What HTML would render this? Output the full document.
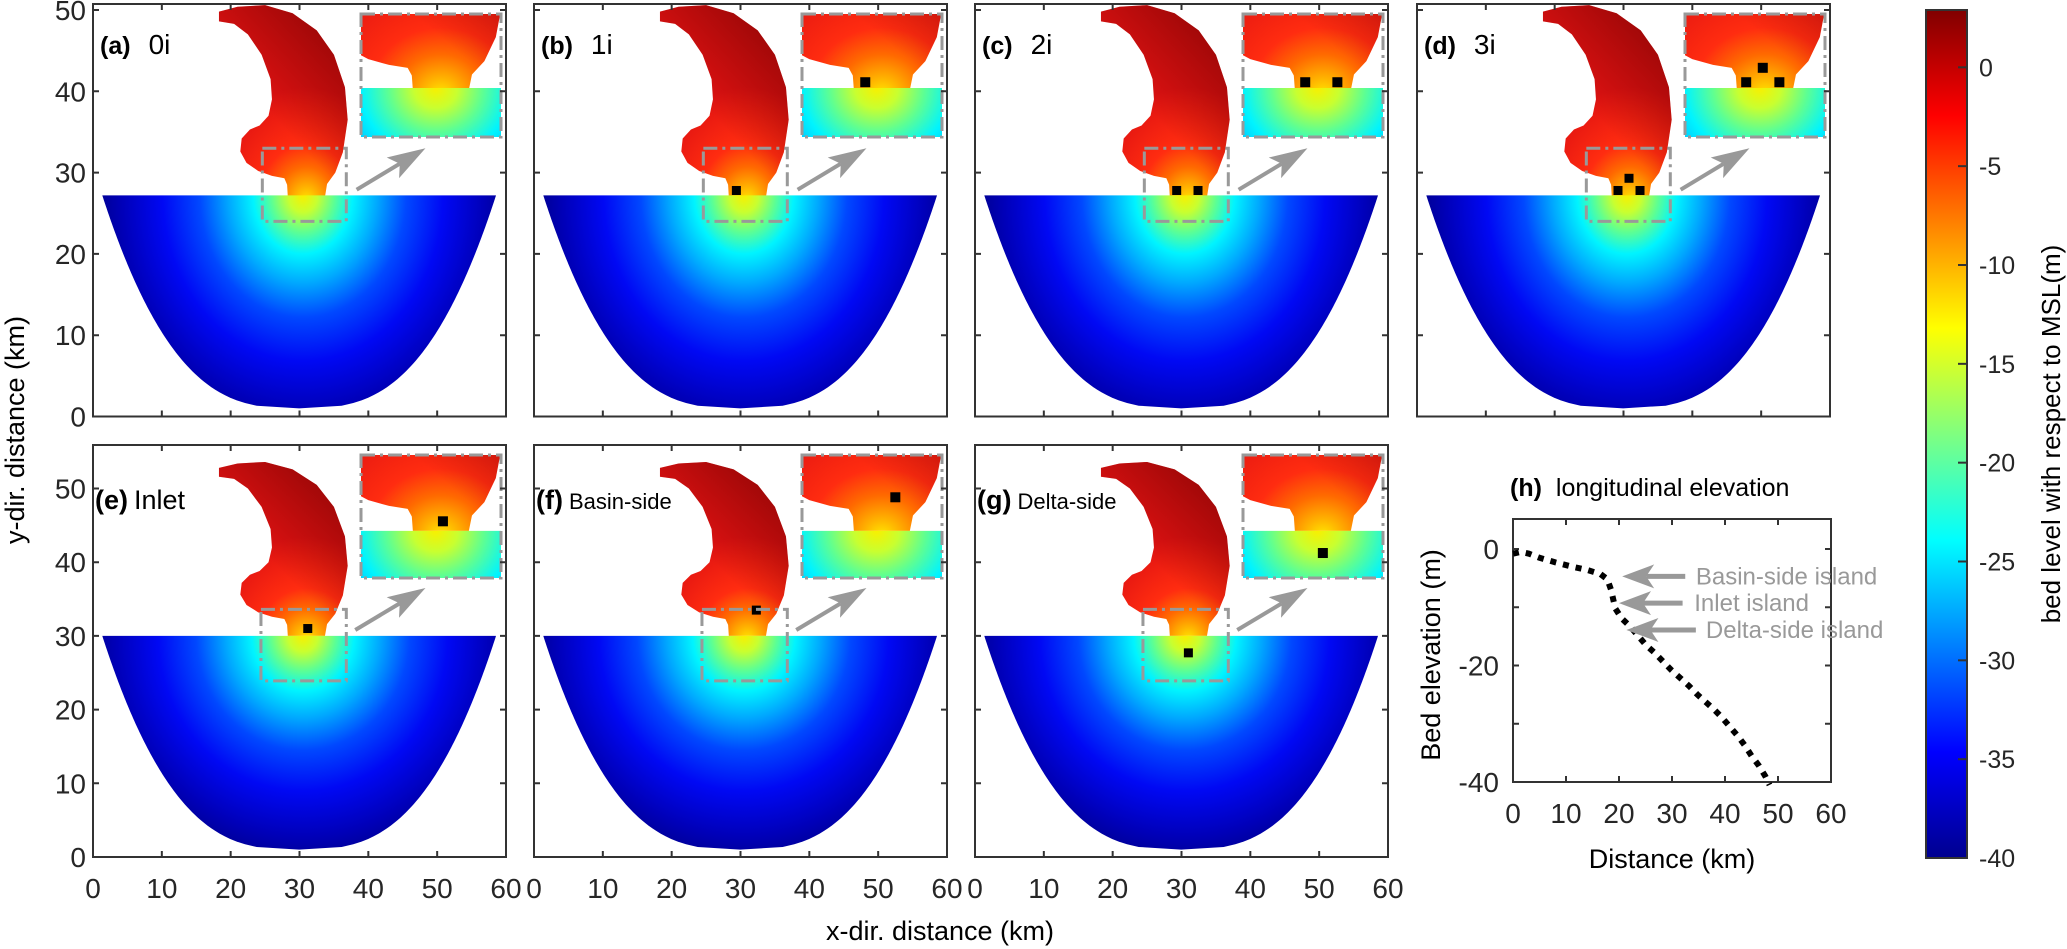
<!DOCTYPE html>
<html><head><meta charset="utf-8"><title>Bed level panels</title>
<style>
html,body{margin:0;padding:0;background:#fff;}
svg{display:block;font-family:"Liberation Sans",Arial,sans-serif;}
</style></head>
<body>
<svg id="fig" xmlns="http://www.w3.org/2000/svg" width="2067" height="949" viewBox="0 0 2067 949">
<defs id="defs"></defs>
</svg>
<script>
// ---------- data ----------
const panelLabels = ['(a)','(b)','(c)','(d)','(e)','(f)','(g)'];
const panelTitles = ['0i','1i','2i','3i','Inlet','Basin-side','Delta-side'];
const islandsX = [[],[29.4],[29.3,32.4],[29.2,30.8,32.4],[31.2],[32.3],[31.0]];
const islandsY = [[],[27.8],[27.8,27.8],[27.8,29.3,27.8],[31.0],[33.5],[27.7]];
const mapXTicks = [0,10,20,30,40,50,60];
const topYTicks = [0,10,20,30,40,50];
const botYTicks = [0,10,20,30,40,50];
const profDist = [0,1.5,3,5,8,11,14,16.5,17.8,18.5,19.3,20.5,22.1,25.1,26.7,28.4,29.9,31.5,33.2,34.8,36.4,38,39.5,41,42.5,43.8,45,46.4,47.6,48.4];
const profElev = [-0.8,-0.5,-0.8,-1.5,-2.3,-3,-3.6,-4.3,-5.2,-7,-10.2,-11.9,-13.3,-16.5,-17.8,-19.4,-20.8,-22.1,-23.5,-25,-26.3,-27.6,-29,-30.6,-32.2,-33.8,-35.5,-37.2,-39,-40.5];
const hXTicks = [0,10,20,30,40,50,60];
const hYTicks = [0,-20,-40];
const hYMinor = [-10,-30];
const annotText = ['Basin-side island','Inlet island','Delta-side island'];
const annotElev = [-4.7,-9.3,-13.9];
const annotTip = [20.6,20.0,21.4];
const annotTail = [32.5,32,34.5];
const annotTextX = [34.5,34.2,36.4];
const cbTicks = [0,-5,-10,-15,-20,-25,-30,-35,-40];

// ---------- helpers ----------
const NS='http://www.w3.org/2000/svg';
const svg=document.getElementById('fig');
const defs=document.getElementById('defs');
function mk(tag,parent){const e=document.createElementNS(NS,tag);(parent||svg).appendChild(e);return e;}
function set(e,a){for(const k in a)e.setAttribute(k,a[k]);return e;}
function pts(arr){return arr.map(p=>p[0]+','+p[1]).join(' ');}

const jet=[[0,'#00008f'],[0.125,'#0000ff'],[0.375,'#00ffff'],[0.625,'#ffff00'],[0.875,'#ff0000'],[1,'#800000']];
function grad(id,type,attrs,stops){const g=mk(type,defs);set(g,Object.assign({id:id},attrs));stops.forEach(s=>{const st=mk('stop',g);set(st,{offset:s[0],'stop-color':s[1]});if(s[2]!==undefined)st.setAttribute('stop-opacity',s[2]);});return g;}
const basinStops=[[0,'#f8f000'],[0.07,'#c8ff30'],[0.15,'#60ff90'],[0.24,'#00f4ff'],[0.36,'#00a8ff'],[0.5,'#0048ff'],[0.68,'#0008f4'],[0.88,'#0000b8'],[1,'#000090']];
grad('basinTop','radialGradient',{gradientUnits:'userSpaceOnUse',cx:30.5,cy:27.2,r:30},basinStops);
grad('basinBot','radialGradient',{gradientUnits:'userSpaceOnUse',cx:30.5,cy:30,r:31},basinStops);
const deltaStops=[[0,'#ffe800'],[0.12,'#ffb400'],[0.3,'#ff6a00'],[0.5,'#ff2c10'],[1,'#e01212']];
grad('deltaTop','radialGradient',{gradientUnits:'userSpaceOnUse',cx:31,cy:26.5,r:14},deltaStops);
grad('deltaBot','radialGradient',{gradientUnits:'userSpaceOnUse',cx:31,cy:29.5,r:14},deltaStops);
grad('shadeTop','linearGradient',{gradientUnits:'userSpaceOnUse',x1:27,y1:36,x2:36,y2:46},[[0,'#700000',0],[1,'#700000',0.6]]);
grad('shadeBot','linearGradient',{gradientUnits:'userSpaceOnUse',x1:27,y1:39,x2:36,y2:49},[[0,'#700000',0],[1,'#700000',0.6]]);
grad('cbGrad','linearGradient',{x1:0,y1:1,x2:0,y2:0},jet.map(s=>[s[0],s[1]]));

const deltaPts=[[28.3,27.0],[28.2,28.5],[27.8,29.3],[26,29.6],[24,30.2],[22.3,31.2],[21.4,32.6],[21.6,34.2],[22.8,35.3],[24.2,35.8],[25.5,37],[26,39],[25.8,41.5],[24.5,44.5],[22.5,47],[20.5,48.3],[18.3,48.6],[18.3,49.8],[21,50.4],[25,50.6],[29,49.6],[32.5,47.5],[35,44.5],[36.6,40.5],[37,36.5],[36.3,32.5],[35.2,30],[34,28.6],[33.7,27.0]];
function basinPts(top){
  const left=[], right=[];
  const N=80;
  for(let k=0;k<=N;k++){
    const r=1-k/N;
    const w=28.6*Math.pow(r,0.35);
    const y=1+r*(top-1);
    left.push([29.95-w,y]);
    right.unshift([29.95+w,y]);
  }
  return left.concat(right);
}
function drawMap(g,row){
  const shift=row===0?0:3;
  const d=mk('polygon',g);
  set(d,{points:pts(deltaPts.map(p=>[p[0],p[1]+shift])),fill:row===0?'url(#deltaTop)':'url(#deltaBot)'});
  
  
  const s=mk('polygon',g);
  set(s,{points:pts(deltaPts.map(p=>[p[0],p[1]+shift])),fill:row===0?'url(#shadeTop)':'url(#shadeBot)'});
  
  
  const b=mk('polygon',g);
  set(b,{points:pts(basinPts(row===0?27.2:30)),fill:row===0?'url(#basinTop)':'url(#basinBot)'});
  
  
}

const colX=[93,534,975,1417];
const FW=413;
const rows=[{top:4,bottom:416.5,ys:8.13,box:[24.6,36.8,24.0,33.0],arrow:[38.3,27.9,48.3,33.0]},
            {top:445,bottom:857,ys:7.37,box:[24.4,36.8,23.9,33.6],arrow:[38.1,30.8,48.3,36.5]}];
const XS=FW/60;

for(let i=0;i<7;i++){
  const row=i<4?0:1, R=rows[row];
  const fx=colX[i%4], ftop=R.top, fbot=R.bottom;
  const sx=v=>fx+v*XS, sy=v=>fbot-v*R.ys;
  const pg=mk('g');
  
  
  const mg=mk('g',pg);
  set(mg,{transform:`translate(${fx},${fbot}) scale(${XS},${-R.ys})`});
  
  
  drawMap(mg,row);
  islandsX[i].forEach((x,j)=>{
    const r=mk('rect',pg);
    set(r,{x:sx(x)-4.5,y:sy(islandsY[i][j])-4.5,width:9,height:9,fill:'#000'});
    
    
  });
  const bx=R.box;
  const zb=mk('rect',pg);
  set(zb,{x:sx(bx[0]),y:sy(bx[3]),width:sx(bx[1])-sx(bx[0]),height:sy(bx[2])-sy(bx[3]),fill:'none',stroke:'#999','stroke-width':3,'stroke-dasharray':'14,5,3,5'});
  
  
  const a=R.arrow, x1=sx(a[0]),y1=sy(a[1]),x2=sx(a[2]),y2=sy(a[3]);
  const ang=Math.atan2(y2-y1,x2-x1), hl=30, hw=12;
  const bxp=x2-hl*Math.cos(ang), byp=y2-hl*Math.sin(ang);
  const ln=mk('line',pg);
  set(ln,{x1:x1,y1:y1,x2:bxp,y2:byp,stroke:'#999','stroke-width':4});
  
  
  const hd=mk('polygon',pg);
  set(hd,{points:pts([[x2,y2],[bxp-8*Math.cos(ang)+hw*Math.sin(ang),byp-8*Math.sin(ang)-hw*Math.cos(ang)],[bxp,byp],[bxp-8*Math.cos(ang)-hw*Math.sin(ang),byp-8*Math.sin(ang)+hw*Math.cos(ang)]]),fill:'#999'});
  
  
  const shift=row===0?0:3;
  const ix=fx+268, iy=ftop+10, iw=140, ih=123;
  const vx=23.3, vy=34.9+shift, vw=13.5, vh=12.8;
  const ins=mk('svg',pg);
  set(ins,{x:ix,y:iy,width:iw,height:ih,viewBox:`${vx} ${-vy} ${vw} ${vh}`,preserveAspectRatio:'none'});
  
  
  const ig=mk('g',ins);
  set(ig,{transform:'scale(1,-1)'});
  drawMap(ig,row);
  islandsX[i].forEach((x,j)=>{
    const r=mk('rect',pg);
    set(r,{x:ix+(x-vx)/vw*iw-5,y:iy+(vy-islandsY[i][j])/vh*ih-5,width:10,height:10,fill:'#000'});
    
    
  });
  const ib=mk('rect',pg);
  set(ib,{x:ix,y:iy,width:iw,height:ih,fill:'none',stroke:'#999','stroke-width':3,'stroke-dasharray':'14,5,3,5'});
  
  
  const fr=mk('rect',pg);
  set(fr,{x:fx,y:ftop,width:FW,height:fbot-ftop,fill:'none',stroke:'#333','stroke-width':2});
  
  
  mapXTicks.forEach(t=>{
    const X=sx(t);
    const tk=mk('path',pg);
    set(tk,{d:`M${X},${fbot}v-6M${X},${ftop}v6`,stroke:'#333','stroke-width':2});
    
    
    if(row===1){
      const tl=mk('text',pg);
      set(tl,{x:X,y:fbot+41,'text-anchor':'middle','font-size':28,fill:'#262626'});
      tl.textContent=t;
      
      
    }
  });
  (row===0?topYTicks:botYTicks).forEach(t=>{
    const Y=sy(t);
    const tk=mk('path',pg);
    set(tk,{d:`M${fx},${Y}h6M${fx+FW},${Y}h-6`,stroke:'#333','stroke-width':2});
    
    
    if(i%4===0){
      const tl=mk('text',pg);
      set(tl,{x:fx-7,y:Y+10,'text-anchor':'end','font-size':28,fill:'#262626'});
      tl.textContent=t;
      
      
    }
  });
  const lt=mk('text',pg);
  const small=(i===5||i===6);
  set(lt,{x:fx+(row===0?7:2),y:row===0?ftop+50:ftop+64,'font-size':row===0?25:27,fill:'#000'});
  
  
  const t1=mk('tspan',lt);
  set(t1,{'font-weight':'bold'});
  t1.textContent=panelLabels[i];
  const t2=mk('tspan',lt);
  set(t2,{dx:row===0?18:6,'font-size':small?22:(row===0?28:27)});
  t2.textContent=panelTitles[i];
}

// ---------- panel h ----------
const H={l:1513,r:1831,t:519,b:782};
const hx=v=>H.l+v*(H.r-H.l)/60;
const hy=v=>549-v*5.825;
const hg=mk('g');


const hf=mk('rect',hg);
set(hf,{x:H.l,y:H.t,width:H.r-H.l,height:H.b-H.t,fill:'none',stroke:'#333','stroke-width':2});


hXTicks.forEach(t=>{
  const X=hx(t);
  const tk=mk('path',hg);
  set(tk,{d:`M${X},${H.b}v-6M${X},${H.t}v6`,stroke:'#333','stroke-width':2});
  
  
  const tl=mk('text',hg);
  set(tl,{x:X,y:H.b+41,'text-anchor':'middle','font-size':28,fill:'#262626'});
  tl.textContent=t;
  
  
});
hYTicks.concat(hYMinor).forEach(t=>{
  const Y=hy(t);
  const tk=mk('path',hg);
  set(tk,{d:`M${H.l},${Y}h6M${H.r},${Y}h-6`,stroke:'#333','stroke-width':2});
  
  
});
hYTicks.forEach(t=>{
  const tl=mk('text',hg);
  set(tl,{x:H.l-14,y:hy(t)+10,'text-anchor':'end','font-size':28,fill:'#262626'});
  tl.textContent=t;
  
  
});
const prof=mk('polyline',hg);
set(prof,{points:pts(profDist.map((d,i)=>[hx(d),hy(profElev[i])])),fill:'none',stroke:'#000','stroke-width':6,'stroke-dasharray':'6,7'});


annotText.forEach((txt,i)=>{
  const Y=hy(annotElev[i]), xt=hx(annotTip[i]), xl=hx(annotTail[i]);
  const l=mk('line',hg);
  set(l,{x1:xl,y1:Y,x2:xt+24,y2:Y,stroke:'#999','stroke-width':5});
  
  
  const h=mk('polygon',hg);
  set(h,{points:pts([[xt,Y],[xt+32,Y-12],[xt+24,Y],[xt+32,Y+12]]),fill:'#999'});
  
  
  const tx=mk('text',hg);
  set(tx,{x:hx(annotTextX[i]),y:Y+8,'font-size':24,fill:'#999'});
  tx.textContent=txt;
  
  
});
const ht=mk('text',hg);
set(ht,{x:1510,y:496,'font-size':25,fill:'#000'});


const ht1=mk('tspan',ht);set(ht1,{'font-weight':'bold'});ht1.textContent='(h)';
const ht2=mk('tspan',ht);set(ht2,{dx:14});ht2.textContent='longitudinal elevation';
const hxl=mk('text',hg);
set(hxl,{x:1672,y:868,'text-anchor':'middle','font-size':27,fill:'#000'});
hxl.textContent='Distance (km)';


const hyl=mk('text',hg);
set(hyl,{x:0,y:0,transform:'translate(1440,655) rotate(-90)','text-anchor':'middle','font-size':27,fill:'#000'});
hyl.textContent='Bed elevation (m)';



// ---------- colorbar ----------
const CB={l:1926,r:1967,t:10,b:858,vmin:-40,vmax:2.9};
const cy=v=>CB.b-(v-CB.vmin)/(CB.vmax-CB.vmin)*(CB.b-CB.t);
const cg=mk('g');


const cr=mk('rect',cg);
set(cr,{x:CB.l,y:CB.t,width:CB.r-CB.l,height:CB.b-CB.t,fill:'url(#cbGrad)',stroke:'#333','stroke-width':2});


cbTicks.forEach(t=>{
  const Y=cy(t);
  const tk=mk('line',cg);
  set(tk,{x1:CB.r-9,x2:CB.r,y1:Y,y2:Y,stroke:'#333','stroke-width':2});
  
  
  const tl=mk('text',cg);
  set(tl,{x:CB.r+12,y:Y+9,'font-size':25,fill:'#262626'});
  tl.textContent=t;
  
  
});
const ct=mk('text',cg);
set(ct,{x:0,y:0,transform:'translate(2060,434) rotate(-90)','text-anchor':'middle','font-size':26,fill:'#000'});
ct.textContent='bed level with respect to MSL(m)';



const xt=mk('text');
set(xt,{x:940,y:940,'text-anchor':'middle','font-size':27,fill:'#000'});
xt.textContent='x-dir. distance (km)';


const yt=mk('text');
set(yt,{x:0,y:0,transform:'translate(24,430) rotate(-90)','text-anchor':'middle','font-size':27,fill:'#000'});
yt.textContent='y-dir. distance (km)';


</script>
</body></html>
